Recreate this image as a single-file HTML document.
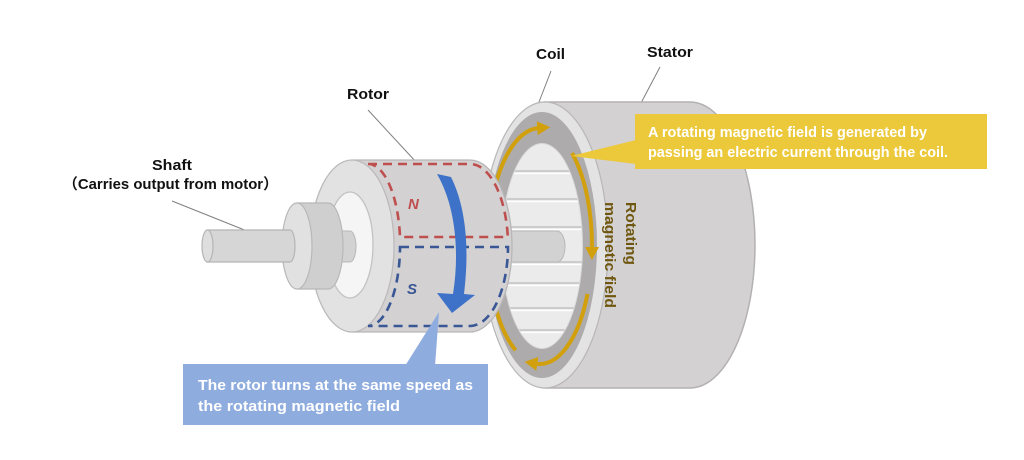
<!DOCTYPE html>
<html><head><meta charset="utf-8">
<style>
html,body{margin:0;padding:0;background:#fff;}
svg{display:block;}
text{font-family:"Liberation Sans","Noto Sans CJK JP",sans-serif;font-weight:bold;}
</style></head>
<body>
<svg width="1024" height="460" viewBox="0 0 1024 460" xmlns="http://www.w3.org/2000/svg">
<defs>
  <marker id="ah" markerUnits="userSpaceOnUse" markerWidth="16" markerHeight="16" refX="1" refY="7" orient="auto">
    <path d="M0,0 L13,7 L0,14 Z" fill="#d2a00c"/>
  </marker>
  <clipPath id="bore"><ellipse cx="542" cy="246" rx="40" ry="102"/></clipPath>
</defs>

<!-- leader lines -->
<g stroke="#808080" stroke-width="1" fill="none">
  <line x1="172" y1="201" x2="247" y2="231"/>
  <line x1="368" y1="110" x2="417" y2="163"/>
  <line x1="551" y1="71" x2="532" y2="120"/>
  <line x1="660" y1="67" x2="641" y2="103"/>
</g>

<!-- labels -->
<g fill="#111" font-size="15">
  <text x="152" y="170" textLength="40" lengthAdjust="spacingAndGlyphs">Shaft</text>
  <text x="63" y="189" textLength="215" lengthAdjust="spacingAndGlyphs">（Carries output from motor）</text>
  <text x="347" y="99" textLength="42" lengthAdjust="spacingAndGlyphs">Rotor</text>
  <text x="536" y="59" textLength="29" lengthAdjust="spacingAndGlyphs">Coil</text>
  <text x="647" y="57" textLength="46" lengthAdjust="spacingAndGlyphs">Stator</text>
</g>

<!-- STATOR -->
<path d="M545,102 L690,102 A65,143 0 0 1 690,388 L545,388 Z" fill="#d3d1d2" stroke="#b3b1b2" stroke-width="1.5"/>
<ellipse cx="545" cy="245" rx="63" ry="143" fill="#e4e3e3" stroke="#b8b6b7" stroke-width="1.2"/>
<ellipse cx="542" cy="245" rx="55" ry="133" fill="#adabab"/>
<ellipse cx="542" cy="246" rx="41" ry="103" fill="#d9d9d9"/>
<ellipse cx="542" cy="246" rx="40" ry="102" fill="#ebebeb"/>
<g clip-path="url(#bore)">
  <g stroke="#c2c2c2" stroke-width="1.6">
    <line x1="495" y1="171" x2="590" y2="171"/>
    <line x1="495" y1="199" x2="590" y2="199"/>
    <line x1="495" y1="227" x2="590" y2="227"/>
    <line x1="495" y1="262" x2="590" y2="262"/>
    <line x1="495" y1="283" x2="590" y2="283"/>
    <line x1="495" y1="308" x2="590" y2="308"/>
    <line x1="495" y1="330" x2="590" y2="330"/>
  </g>
  <g stroke="#ffffff" stroke-width="1.2">
    <line x1="495" y1="173.5" x2="590" y2="173.5"/>
    <line x1="495" y1="201.5" x2="590" y2="201.5"/>
    <line x1="495" y1="229.5" x2="590" y2="229.5"/>
    <line x1="495" y1="264.5" x2="590" y2="264.5"/>
    <line x1="495" y1="285.5" x2="590" y2="285.5"/>
    <line x1="495" y1="310.5" x2="590" y2="310.5"/>
    <line x1="495" y1="332.5" x2="590" y2="332.5"/>
  </g>
  <path d="M500,231 L557,231 A8,15.5 0 0 1 557,262 L500,262 Z" fill="#d2d2d2" stroke="#b8b8b8" stroke-width="1"/>
</g>

<!-- coil arrows -->
<g fill="none" stroke="#d2a00c" stroke-width="4">
  <path d="M515.6,350.2 A52,118 0 0 1 538.2,128.1" marker-end="url(#ah)"/>
  <path d="M572,153 A52,118 0 0 1 592,248" marker-end="url(#ah)"/>
  <path d="M587.5,294 A52,118 0 0 1 536.4,363.7" marker-end="url(#ah)"/>
</g>

<!-- rotating magnetic field text -->
<g fill="#6f5710" font-size="15">
  <text transform="translate(626,202) rotate(90)" textLength="63" lengthAdjust="spacingAndGlyphs">Rotating</text>
  <text transform="translate(605,202) rotate(90)" textLength="106" lengthAdjust="spacingAndGlyphs">magnetic field</text>
</g>

<!-- yellow callout -->
<path d="M636,140 L571,156 L636,164 Z" fill="#ecc93a"/>
<rect x="635" y="114" width="352" height="55" fill="#ecc93a"/>
<g fill="#ffffff" font-size="15">
  <text x="648" y="137" textLength="279" lengthAdjust="spacingAndGlyphs">A rotating magnetic field is generated by</text>
  <text x="648" y="157" textLength="300" lengthAdjust="spacingAndGlyphs">passing an electric current through the coil.</text>
</g>

<!-- ROTOR -->
<path d="M353,160 L470,160 A42,86 0 0 1 470,332 L353,332 Z" fill="#d3d1d2" stroke="#b8b6b7" stroke-width="1.3"/>
<ellipse cx="352" cy="246" rx="42" ry="86" fill="#e3e2e2" stroke="#bcbaba" stroke-width="1.3"/>
<ellipse cx="350" cy="245" rx="23" ry="53" fill="#f5f5f5" stroke="#c2c2c2" stroke-width="1.3"/>
<!-- shaft stub in hole -->
<path d="M335,231 L350,231 A6,15.5 0 0 1 350,262 L335,262 Z" fill="#d2d2d2" stroke="#b8b8b8" stroke-width="1"/>
<!-- collar -->
<path d="M297,203 L328,203 A15,43 0 0 1 328,289 L297,289 Z" fill="#cfcfcf" stroke="#b8b8b8" stroke-width="1.2"/>
<ellipse cx="297" cy="246" rx="15" ry="43" fill="#e1e1e1" stroke="#b8b8b8" stroke-width="1.2"/>
<!-- thin shaft -->
<path d="M207,230 L290,230 A5,16 0 0 1 290,262 L207,262 Z" fill="#d6d6d6" stroke="#b5b5b5" stroke-width="1.2"/>
<ellipse cx="207.5" cy="246" rx="5.5" ry="16" fill="#dedede" stroke="#b5b5b5" stroke-width="1.2"/>

<!-- N / S dashed regions -->
<path d="M368,164 L470,164 A38,82 0 0 1 507.8,237 L400,237 A32,82 0 0 0 368,164 Z" fill="none" stroke="#bf4f4e" stroke-width="2.6" stroke-dasharray="9,6"/>
<path d="M400,247 L508,247 A38,80 0 0 1 470,326 L368,326 A32,80 0 0 0 400,247 Z" fill="none" stroke="#3a5795" stroke-width="2.6" stroke-dasharray="9,6"/>
<text x="408" y="209" font-size="15" fill="#bf4f4e" font-style="italic">N</text>
<text x="407" y="294" font-size="15" fill="#3a5795" font-style="italic">S</text>

<!-- blue curved arrow -->
<path d="M437,174 C455,205 460,250 453,294 L437,293 L452,313 L475,295 L464,294 C470,245 465,205 451,177 Z" fill="#3d72c8"/>

<!-- blue callout -->
<path d="M405,366 L439,312 L435,366 Z" fill="#8facdf"/>
<rect x="183" y="364" width="305" height="61" fill="#8facdf"/>
<g fill="#ffffff" font-size="15">
  <text x="198" y="390" textLength="275" lengthAdjust="spacingAndGlyphs">The rotor turns at the same speed as</text>
  <text x="198" y="411" textLength="202" lengthAdjust="spacingAndGlyphs">the rotating magnetic field</text>
</g>
</svg>
</body></html>
